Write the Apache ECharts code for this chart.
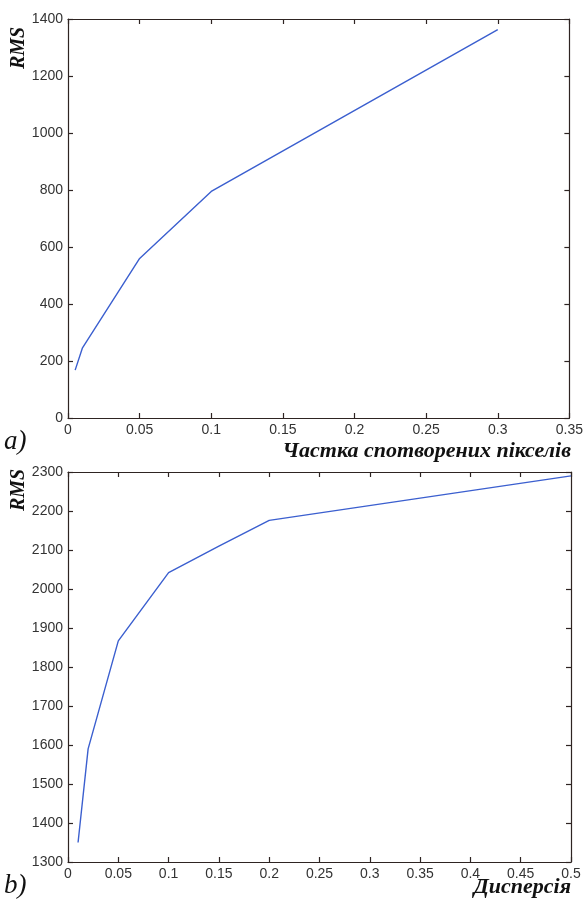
<!DOCTYPE html>
<html>
<head>
<meta charset="utf-8">
<script src="https://cdn.jsdelivr.net/npm/echarts@6/dist/echarts.min.js"></script>
<style>html,body{margin:0;padding:0;background:#fff}#c{width:586px;height:902px}</style>
</head>
<body>
<div id="c"></div>
<script>
// Chart a)
const xA = [0.005, 0.01, 0.05, 0.1, 0.3];
const yA = [168, 245, 560, 795, 1363];
const xTicksA = [0, 0.35, 0.05];   // min, max, interval
const yTicksA = [0, 1400, 200];
// Chart b)
const xB = [0.01, 0.02, 0.05, 0.1, 0.15, 0.2, 0.5];
const yB = [1350, 1590, 1867, 2042, 2110, 2176, 2290];
const xTicksB = [0, 0.5, 0.05];
const yTicksB = [1300, 2300, 100];

const AX = '#2e2422';
const LBL = {fontFamily: 'Liberation Sans, Arial, sans-serif', fontSize: 14, color: '#333'};
const fmt = v => String(+(+v).toFixed(3));

function axisBase(grid, t) {
  return {type: 'value', gridIndex: grid, min: t[0], max: t[1], interval: t[2],
    splitLine: {show: false},
    axisLine: {show: true, onZero: false, lineStyle: {color: AX, width: 1.2}},
    axisTick: {show: true, inside: true, length: 5, lineStyle: {color: AX, width: 1.2}}};
}
function xAxes(grid, t) {
  return [
    Object.assign(axisBase(grid, t), {position: 'bottom',
      axisLabel: Object.assign({margin: 5, formatter: fmt, showMinLabel: true, showMaxLabel: true}, LBL)}),
    Object.assign(axisBase(grid, t), {position: 'top', axisLabel: {show: false}})
  ];
}
function yAxes(grid, t) {
  return [
    Object.assign(axisBase(grid, t), {position: 'left',
      axisLabel: Object.assign({margin: 5, formatter: fmt, showMinLabel: true, showMaxLabel: true}, LBL)}),
    Object.assign(axisBase(grid, t), {position: 'right', axisLabel: {show: false}})
  ];
}

const serifBI = {fontFamily: 'Liberation Serif, Times New Roman, serif', fontWeight: 'bold', fontStyle: 'italic', fill: '#111'};
const serifI = {fontFamily: 'Liberation Serif, Times New Roman, serif', fontStyle: 'italic', fill: '#111'};

const chart = echarts.init(document.getElementById('c'), null, {renderer: 'canvas'});
chart.setOption({
  animation: false,
  backgroundColor: '#fff',
  grid: [
    {left: 68, right: 15, top: 19, height: 399},
    {left: 68, right: 15, top: 472, height: 390}
  ],
  xAxis: [...xAxes(0, xTicksA), ...xAxes(1, xTicksB)],
  yAxis: [...yAxes(0, yTicksA), ...yAxes(1, yTicksB)],
  series: [
    {type: 'line', xAxisIndex: 0, yAxisIndex: 0, data: xA.map((x, i) => [x, yA[i]]),
      showSymbol: false, lineStyle: {color: '#3b5fcf', width: 1.4}},
    {type: 'line', xAxisIndex: 2, yAxisIndex: 2, data: xB.map((x, i) => [x, yB[i]]),
      showSymbol: false, lineStyle: {color: '#3b5fcf', width: 1.4}}
  ],
  graphic: [
    {type: 'text', x: 19, y: 48, rotation: Math.PI / 2,
      style: Object.assign({text: 'RMS', fontSize: 20, align: 'center', verticalAlign: 'middle'}, serifBI)},
    {type: 'text', x: 19, y: 490, rotation: Math.PI / 2,
      style: Object.assign({text: 'RMS', fontSize: 20, align: 'center', verticalAlign: 'middle'}, serifBI)},
    {type: 'text', x: 4, y: 442,
      style: Object.assign({text: 'a)', fontSize: 27, align: 'left', verticalAlign: 'middle'}, serifI)},
    {type: 'text', x: 4, y: 886,
      style: Object.assign({text: 'b)', fontSize: 27, align: 'left', verticalAlign: 'middle'}, serifI)},
    {type: 'text', x: 571, y: 451,
      style: Object.assign({text: 'Частка спотворених пікселів', fontSize: 22, align: 'right', verticalAlign: 'middle'}, serifBI)},
    {type: 'text', x: 571, y: 887,
      style: Object.assign({text: 'Дисперсія', fontSize: 22, align: 'right', verticalAlign: 'middle'}, serifBI)}
  ]
});
</script>
</body>
</html>
